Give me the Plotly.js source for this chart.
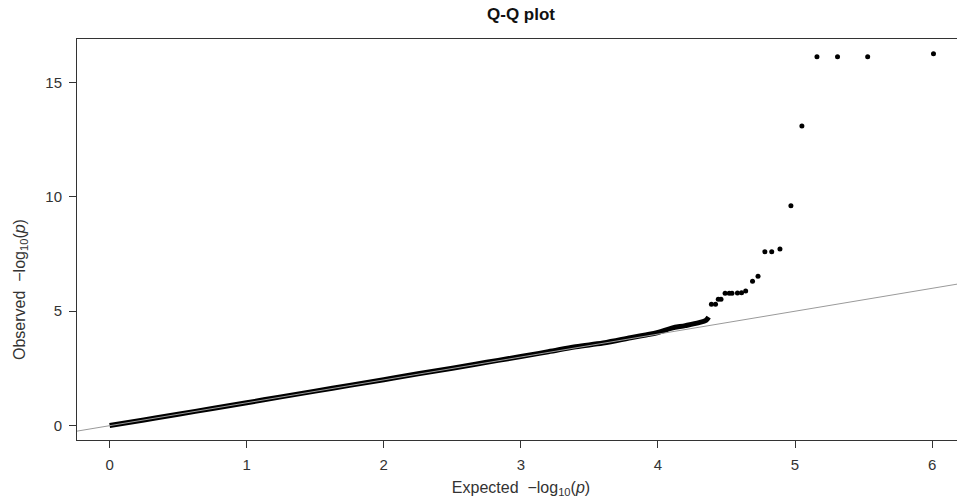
<!DOCTYPE html>
<html>
<head>
<meta charset="utf-8">
<script src="https://cdn.plot.ly/plotly-3.0.1.min.js"></script>
<style>
html, body { margin: 0; padding: 0; overflow: hidden; background: #fff; }
#chart { width: 975px; height: 503px; }
</style>
</head>
<body>
<div id="chart"></div>
<script>
// Bulk of the Q-Q points (dense band), expected vs observed -log10(p)
const bulkExpected = [0, 0.25, 0.5, 0.75, 1, 1.25, 1.5, 1.75, 2, 2.25, 2.5, 2.75, 3, 3.2, 3.4, 3.6, 3.8, 3.9, 4.0, 4.1, 4.2, 4.3, 4.35, 4.37];
const bulkObserved = [0.01, 0.25, 0.5, 0.75, 1.0, 1.26, 1.51, 1.76, 2.01, 2.27, 2.51, 2.77, 3.02, 3.23, 3.45, 3.61, 3.84, 3.95, 4.07, 4.26, 4.37, 4.5, 4.6, 4.74];
// Individual tail points
const tailExpected = [4.39, 4.42, 4.44, 4.46, 4.49, 4.52, 4.54, 4.58, 4.61, 4.64, 4.69, 4.73, 4.78, 4.83, 4.89, 4.97, 5.05, 5.16, 5.31, 5.53, 6.01];
const tailObserved = [5.30, 5.30, 5.52, 5.52, 5.78, 5.79, 5.79, 5.80, 5.81, 5.88, 6.31, 6.53, 7.60, 7.60, 7.72, 9.61, 13.09, 16.12, 16.12, 16.12, 16.25];
// Reference line y = x
const refX = [-1, 8];
const refY = [-1, 8];
// Ticks
const xTicks = [0, 1, 2, 3, 4, 5, 6];
const yTicks = [0, 5, 10, 15];

const font = 'Liberation Sans, Arial, sans-serif';

const traces = [
  {
    x: bulkExpected, y: bulkObserved, type: 'scatter', mode: 'lines',
    line: { color: '#000', width: 5, shape: 'spline' }, hoverinfo: 'skip', showlegend: false
  },
  {
    x: tailExpected, y: tailObserved, type: 'scatter', mode: 'markers',
    marker: { color: '#000', size: 5 }, showlegend: false
  },
  {
    x: refX, y: refY, type: 'scatter', mode: 'lines',
    line: { color: '#9a9a9a', width: 1 }, hoverinfo: 'skip', showlegend: false
  }
];

const axisCommon = {
  showgrid: false, zeroline: false, showline: true, mirror: true,
  linecolor: '#333', linewidth: 1,
  ticks: 'outside', ticklen: 7, tickwidth: 1, tickcolor: '#333',
  tickfont: { family: font, size: 15, color: '#333' }
};

const layout = {
  width: 975, height: 503,
  margin: { l: 77, r: 10, t: 39, b: 63 },
  paper_bgcolor: '#fff', plot_bgcolor: '#fff',
  title: {
    text: '<b>Q-Q plot</b>', font: { family: font, size: 17, color: '#111' },
    xref: 'paper', x: 0.5, xanchor: 'center', y: 0.972, yanchor: 'middle'
  },
  xaxis: Object.assign({}, axisCommon, {
    range: [-0.238, 6.24], tickvals: xTicks, ticktext: xTicks.map(String),
    ticklabelstandoff: 4,
    title: { text: 'Expected  \u2212log<sub>10</sub>(<i>p</i>)', font: { family: font, size: 16, color: '#333' }, standoff: 9 }
  }),
  yaxis: Object.assign({}, axisCommon, {
    range: [-0.625, 16.89], tickvals: yTicks, ticktext: yTicks.map(String),
    ticklabelstandoff: 4
  }),
  annotations: [{
    text: 'Observed  \u2212log<sub>10</sub>(<i>p</i>)', textangle: -90,
    xref: 'paper', yref: 'paper', x: 0, y: 0.374, xanchor: 'center', yanchor: 'middle',
    xshift: -57, showarrow: false, font: { family: font, size: 16, color: '#333' }
  }]
};

Plotly.newPlot('chart', traces, layout, { displayModeBar: false, staticPlot: true });
</script>
</body>
</html>
